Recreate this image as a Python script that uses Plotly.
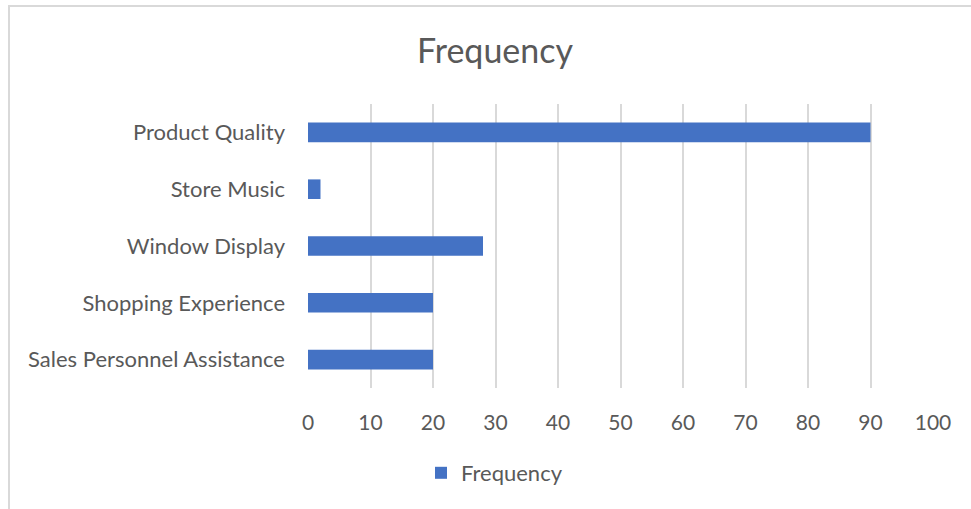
import plotly.graph_objects as go

# Survey factors and how often each was cited
categories = [
    "Sales Personnel Assistance",
    "Shopping Experience",
    "Window Display",
    "Store Music",
    "Product Quality",
]
frequency = [20, 20, 28, 2, 90]
tick_values = [0, 10, 20, 30, 40, 50, 60, 70, 80, 90, 100]

W, H = 971, 509
L, R, T, B = 308, 38, 104, 121
plot_w = W - L - R
plot_h = H - T - B

FONT = "Lato"
TEXT = "#595959"
GRID = "#d9d9d9"

fig = go.Figure(
    go.Bar(
        x=frequency,
        y=categories,
        orientation="h",
        name="Frequency",
        marker=dict(color="#4472C4", line=dict(width=0)),
        showlegend=True,
    )
)

# Outer chart frame (left and top edges visible)
def px_to_paper_x(px):
    return (px - L) / plot_w

def px_to_paper_y(py):
    return (H - B - py) / plot_h

fig.add_shape(
    type="rect",
    xref="paper",
    yref="paper",
    x0=px_to_paper_x(9),
    x1=px_to_paper_x(990),
    y0=px_to_paper_y(530),
    y1=px_to_paper_y(6),
    line=dict(color=GRID, width=2),
    fillcolor="rgba(0,0,0,0)",
    layer="below",
)

fig.update_layout(
    width=W,
    height=H,
    margin=dict(l=L, r=R, t=T, b=B, pad=0),
    paper_bgcolor="white",
    plot_bgcolor="white",
    font=dict(family=FONT, color=TEXT, size=20),
    bargap=0.655,
    title=dict(
        text="Frequency",
        x=495 / W,
        xanchor="center",
        xref="container",
        y=1 - 51 / H,
        yanchor="middle",
        yref="container",
        font=dict(family=FONT, size=34, color=TEXT),
    ),
    legend=dict(
        orientation="h",
        xref="container",
        yref="container",
        x=421 / W,
        xanchor="left",
        y=1 - 473 / H,
        yanchor="middle",
        font=dict(family=FONT, size=22, color=TEXT),
        itemwidth=30,
    ),
    xaxis=dict(
        range=[0, 100],
        tickvals=tick_values,
        ticktext=[str(v) for v in tick_values],
        showgrid=True,
        gridcolor=GRID,
        gridwidth=1.5,
        zeroline=False,
        showline=False,
        ticks="",
        ticklabelstandoff=20,
        tickfont=dict(family=FONT, size=21, color=TEXT),
        fixedrange=True,
    ),
    yaxis=dict(
        categoryorder="array",
        categoryarray=categories,
        showgrid=False,
        zeroline=False,
        showline=False,
        ticks="",
        ticklabelstandoff=22,
        tickfont=dict(family=FONT, size=22, color=TEXT),
        fixedrange=True,
    ),
)

fig.write_html("out.html")
